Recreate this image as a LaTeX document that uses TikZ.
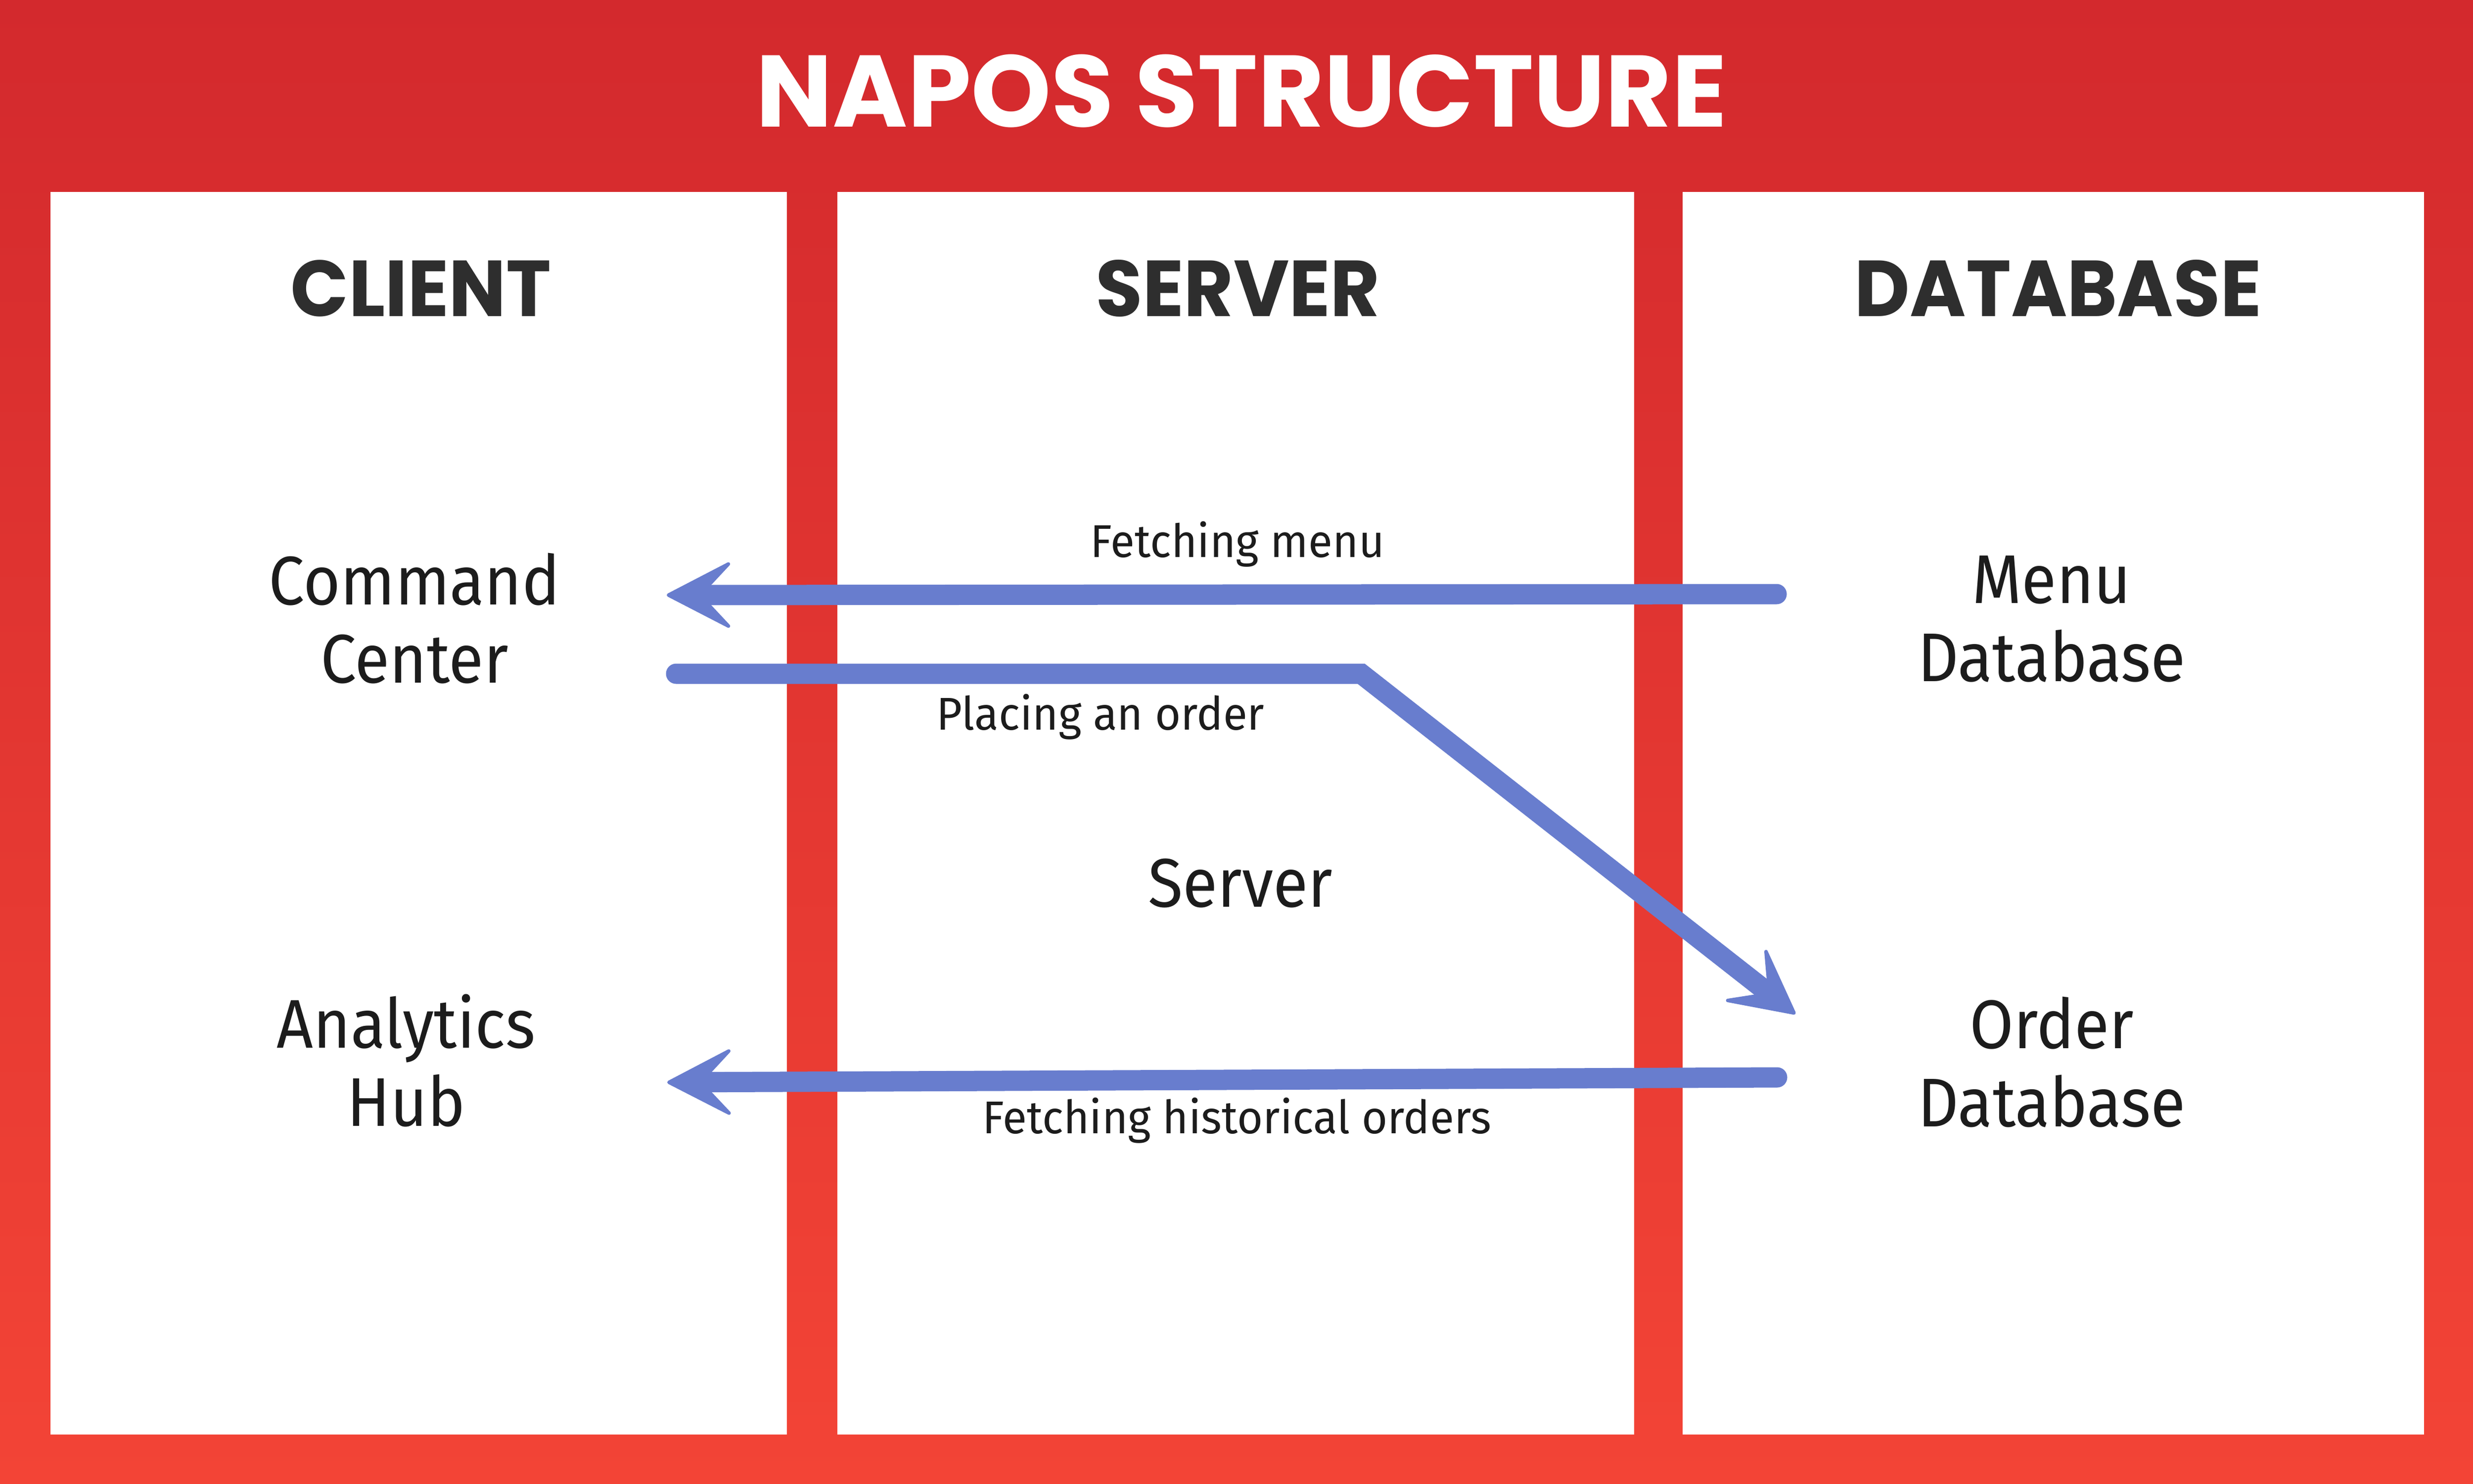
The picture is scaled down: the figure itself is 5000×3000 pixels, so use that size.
\documentclass[tikz,border=0pt]{standalone}
\usepackage{fontspec}
\setmainfont{Fira Sans}
\newfontfamily\titlefont{Poppins}
\newfontfamily\headfont{Poppins}[FakeStretch=0.96]
\newfontfamily\compfont{Fira Sans}[FakeStretch=0.925]
\newfontfamily\labelfont{Fira Sans}[FakeStretch=0.965]
\usetikzlibrary{arrows.meta}
\definecolor{topred}{RGB}{211,41,45}
\definecolor{botred}{RGB}{243,68,54}
\definecolor{arrowblue}{RGB}{104,125,206}
\definecolor{headgray}{RGB}{46,46,46}
\definecolor{bodyblack}{RGB}{28,28,28}
\newcommand\twoline[2]{\begin{tabular}[t]{@{}c@{}}#1\\#2\end{tabular}}
\begin{document}
\begin{tikzpicture}[x=0.01cm,y=-0.01cm,
  panel/.style={fill=white},
  titletext/.style={font={\titlefont\bfseries\fontsize{58.5pt}{64pt}\selectfont}, text=white, inner sep=0pt, anchor=base},
  heading/.style={font={\headfont\bfseries\fontsize{45.6pt}{50pt}\selectfont}, text=headgray, inner sep=0pt, anchor=base},
  bodytext/.style={font={\compfont\fontsize{39.6pt}{45.2pt}\selectfont}, text=bodyblack, inner sep=0pt, anchor=base},
  flowlabel/.style={font={\labelfont\fontsize{26.4pt}{30pt}\selectfont}, text=bodyblack, inner sep=0pt, anchor=base},
  flow/.style={draw=arrowblue, line width=0.41cm, line cap=round,
    -{Stealth[length=1.45cm, width=1.5cm, inset=0.7cm, line width=2pt, round]}}
]
\shade[top color=topred, bottom color=botred] (0,0) rectangle (5000,3000);
\useasboundingbox (0,0) rectangle (5000,3000);

% panels
\fill[panel] (102,388) rectangle (1591,2900);
\fill[panel] (1693,388) rectangle (3304,2900);
\fill[panel] (3402,388) rectangle (4901,2900);

% title and headings
\node[titletext] (title) at (2510,256) {NAPOS STRUCTURE};
\node[heading] (hclient) at (851,639) {CLIENT};
\node[heading] (hserver) at (2503,639) {SERVER};
\node[heading] (hdb) at (4161,639) {DATABASE};

% components
\node[bodytext] (cmd) at (838,1222) {\twoline{Command}{Center}};
\node[bodytext] (ana) at (821,2118) {\twoline{Analytics}{Hub}};
\node[bodytext] (menu) at (4148,1219) {\twoline{Menu}{Database}};
\node[bodytext] (order) at (4148,2119) {\twoline{Order}{Database}};
\node[bodytext] (server) at (2508,1833) {Server};

% flow labels
\node[flowlabel] (lfm) at (2502,1126) {Fetching menu};
\node[flowlabel] (lpo) at (2225,1475) {Placing an order};
\node[flowlabel] (lfh) at (2501,2291) {Fetching historical orders};

% connector end points
\coordinate (fmstart) at (3592,1201);
\coordinate (fmend) at (1348,1203);
\coordinate (postart) at (1367,1362);
\coordinate (pobend) at (2752,1362);
\coordinate (poend) at (3630,2050);
\coordinate (fhstart) at (3593,2178);
\coordinate (fhend) at (1349,2188);

\draw[flow] (fmstart) -- (fmend);
\draw[flow] (postart) -- (pobend) -- (poend);
\draw[flow] (fhstart) -- (fhend);
\end{tikzpicture}
\end{document}
